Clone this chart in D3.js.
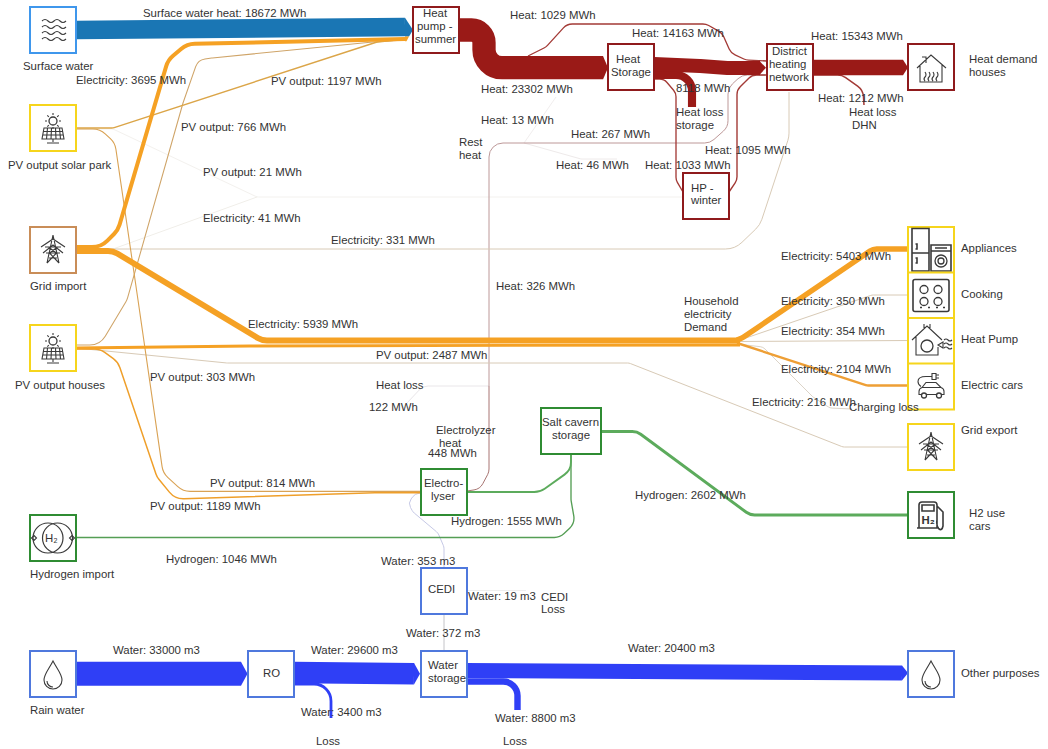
<!DOCTYPE html>
<html><head><meta charset="utf-8">
<style>html,body{margin:0;padding:0;background:#fff}svg{display:block}text{font-family:"Liberation Sans",Arial,sans-serif;font-size:11.4px;fill:#333}</style>
<script src="https://cdn.jsdelivr.net/npm/d3@7/dist/d3.min.js"></script>
</head><body><svg id="c" width="1048" height="749"></svg>
<script>
// ---------- DATA ----------
const nodeNames = ["Surface water","PV output solar park","Grid import","PV output houses","Hydrogen import","Rain water","RO","Water storage","CEDI","Electrolyser","Salt cavern storage","Heat pump - summer","Heat Storage","District heating network","Heat demand houses","HP - winter","Appliances","Cooking","Heat Pump","Electric cars","Grid export","H2 use cars","Other purposes"];
const linkIds   = ["surface","gridHP","pvParkHP","pvHouseHP","pvPark21","grid41","grid331","gridHH","pvHH","pvExport","pvParkEl","pvHouseEl","toStorage","bypass","storDHN","storLoss","storHP","hpDHN","dhnHouse","dhnLoss","elHeat","elLoss","rest267","rest46","rest13","app","cook","hp","cars","charge","elSalt","h2Imp","saltCars","rain","roStore","roLoss","storeOther","storeLoss","cedi372","cedi353","cedi19"];
const linkKinds = ["Surface water heat","Electricity","PV output","PV output","PV output","Electricity","Electricity","Electricity","PV output","PV output","PV output","PV output","Heat","Heat","Heat","Heat","Heat","Heat","Heat","Heat","Heat","Heat","Heat","Heat","Heat","Electricity","Electricity","Electricity","Electricity","Electricity","Hydrogen","Hydrogen","Hydrogen","Water","Water","Water","Water","Water","Water","Water","Water"];
const linkValues= [18672,3695,1197,766,21,41,331,5939,2487,303,814,1189,23302,1029,14163,8118,1033,1095,15343,1212,448,122,267,46,13,5403,350,354,2104,216,1555,1046,2602,33000,29600,3400,20400,8800,372,353,19];

// ---------- LAYOUT (positions and styles, separate from the values) ----------
const boxW = 46;
const nodeLayout = {
 "Surface water":[30,7,"#3f97ec"],"PV output solar park":[30,105,"#f6d51c"],"Grid import":[30,227,"#c98d58"],
 "PV output houses":[30,325,"#f6d51c"],"Hydrogen import":[30,515,"#2f8c33"],"Rain water":[30,651,"#4f78dd"],
 "RO":[248,651,"#4f78dd"],"Water storage":[421,651,"#4f78dd"],"CEDI":[421,568,"#4f78dd"],"Electrolyser":[421,469,"#2f8c33"],
 "Salt cavern storage":[541,408,"#2f8c33",60],"Heat pump - summer":[413,7,"#8f1a1c"],"Heat Storage":[608,44,"#8f1a1c"],
 "District heating network":[767,44,"#8f1a1c"],"Heat demand houses":[908,44,"#8f1a1c"],"HP - winter":[683,173,"#8f1a1c"],
 "Appliances":[908,227,"#f6d51c"],"Cooking":[908,272.5,"#f6d51c"],"Heat Pump":[908,318,"#f6d51c"],"Electric cars":[908,363.5,"#f6d51c"],
 "Grid export":[908,424,"#f6d51c"],"H2 use cars":[908,492,"#2f8c33"],"Other purposes":[908,651,"#4f78dd"]};
const orange="#f5a124", tan="#cfa468", ptan="#d8cab6", pale="#efece8", red="#9a1a17", rose="#bd9898", green="#5cab5c", blue="#2f3ff6", lav="#c6c9e6";
const routes = {
 surface:{p:[[76,30],[405,27]],c:"#1a76b4"},
 gridHP:{p:[[76,247],[101,247],[118,230],[168,60],[187,44],[405,39]],r:22,c:orange},
 pvParkHP:{p:[[76,128],[113,128],[377,42],[405,39]],r:8,c:"#dba548"},
 pvHouseHP:{p:[[76,345],[100,345],[127,300],[183,103],[198,60],[212,58],[373,42],[405,40]],r:18,c:tan},
 pvPark21:{p:[[76,129],[113,129],[257,197],[683,197]],r:6,c:"#f3f1ee"},
 grid41:{p:[[76,249],[113,249],[257,197]],r:6,c:"#f0eee9"},
 grid331:{p:[[76,249],[735,249],[760,225],[789,137],[789,92]],r:24,c:ptan},
 gridHH:{p:[[76,251],[113,251],[262,340.5],[740,340.5]],r:18,c:orange},
 pvHH:{p:[[76,348],[250,346],[740,345]],r:10,c:orange},
 pvExport:{p:[[76,348],[227,363],[629,363],[843,447],[908,447]],r:8,c:ptan},
 pvParkEl:{p:[[76,129],[100,129],[115,143],[138,300],[163,473],[183,491.400],[421,491.400]],r:18,c:"#d9a254"},
 pvHouseEl:{p:[[76,349],[100,349],[118,362],[157,477],[175,499],[375,492.800],[421,492.800]],r:18,c:"#ef9f2a"},
 toStorage:{p:[[459,30],[484,30],[484,67.7],[603,67.7]],r:18,c:red},
 bypass:{p:[[528,56],[546,47],[567,24],[706,24],[722,33],[731,53],[746,60],[767,61]],r:12,c:"#a33a36"},
 storDHN:{p:[[654,64],[700,66],[728,68],[760,68]],r:20,c:red},
 storLoss:{p:[[654,75],[692,75],[692,107]],r:17,c:red},
 storHP:{p:[[654,79],[664,79],[676,93],[676,180],[683,192]],r:10,c:"#a33a36"},
 hpDHN:{p:[[729,192],[737,180],[737,90],[752,75],[767,75]],r:11,c:"#a33a36"},
 dhnHouse:{p:[[812,67.5],[903,67.5]],c:red},
 dhnLoss:{p:[[812,75],[842,75],[863,90],[864,105]],r:14,c:"#a33a36"},
 elHeat:{p:[[467,491],[480,489],[489,472],[489,386]],r:12,c:"#a87572"},
 elLoss:{p:[[489,386],[423,386],[407,403]],r:12,c:"#e9e6e9"},
 rest267:{p:[[489,386],[489,143],[710,143],[728,127],[728,88],[742,75],[765,75]],r:14,c:rose},
 rest46:{p:[[524,143],[581,159],[617,159]],r:6,c:"#eeeaea"},
 rest13:{p:[[524,143],[556,97]],r:2,c:"#f1eeee"},
 app:{p:[[737,340],[743,337.5],[873,249],[908,249]],r:12,c:orange},
 cook:{p:[[737,341],[872,295],[908,295]],r:8,c:ptan},
 hp:{p:[[737,341.5],[908,340.5]],c:ptan},
 cars:{p:[[737,343],[867,385.5],[908,385.5]],r:8,c:"#ee9f35"},
 charge:{p:[[737,344],[763,347],[813,397],[830,408],[852,409]],r:8,c:"#dcd4c8"},
 elSalt:{p:[[467,492],[540,492],[571,470],[571,454]],r:18,c:green},
 h2Imp:{p:[[76,537.5],[560,537.5],[575,523],[571,500],[571,454]],r:14,c:"#559e55"},
 saltCars:{p:[[601,431.5],[637,431.5],[750,515],[908,515]],r:14,c:green},
 rain:{p:[[76,673.7],[241,673.7]],c:blue,water:1},
 roStore:{p:[[294,672.5],[414,673.7]],c:blue,water:1},
 roLoss:{p:[[294,684],[331,684],[331,718]],r:20,c:blue,water:1},
 storeOther:{p:[[467,670.5],[902,673]],c:blue,water:1},
 storeLoss:{p:[[467,681.5],[517.5,681.5],[517.5,710]],r:19,c:blue,water:1},
 cedi372:{p:[[444,613],[444,651]],c:"#c4c4c8",water:1},
 cedi353:{p:[[444,568],[444,547],[438,533],[413,512],[408,503],[415,494],[421,493]],r:9,c:lav,water:1},
 cedi19:{p:[[467,590.5],[526,590.5]],c:"#efefef",water:1}
};
const arrowTips = [
 [[405,17.7],[413,30],[409,36.5],[405,36.5],"#1a76b4"],
 [[405,36.5],[409,36.5],[406.5,41.2],[405,41.2],orange],
 [[603,56],[608,67.7],[603,79.4],red],
 [[759,60.5],[766,67.7],[759,75.4],red],
 [[903,59.8],[908,67.5],[903,75.2],red],
 [[241,661.7],[247.5,673.7],[241,685.7],blue],
 [[414,663],[420,673.7],[414,684.5],blue],
 [[902,665.5],[908,673],[902,680.5],blue]
];
// link labels: [link id, x, y]; text comes from linkKinds + linkValues
const linkLabelPos = [
 ["surface",143,13],["gridHP",76,80],["pvParkHP",271,81],["pvHouseHP",181,127],["pvPark21",203,172],["grid41",203,218],["grid331",331,240],
 ["gridHH",248,324],["pvHH",376,355],["pvExport",150,377],["pvParkEl",210,483],["pvHouseEl",150,506],
 ["toStorage",481,89],["bypass",510,15],["storDHN",632,33],["storHP",645,165],["hpDHN",705,150],["dhnHouse",811,36],["dhnLoss",818,98],
 ["rest267",571,134],["rest46",556,165],["rest13",481,120],
 ["app",781,256],["cook",781,301],["hp",781,331],["cars",781,369],["charge",752,402],
 ["elSalt",451,521],["h2Imp",166,559],["saltCars",635,495],
 ["rain",113,650],["roStore",311,650],["roLoss",301,712],["storeOther",628,648],["storeLoss",495,718],["cedi372",406,633],["cedi353",381,561],["cedi19",468,596]];
const unitOf = k => k==="Water" ? "m3" : "MWh";
// free-standing text
const freeLabels = [
 ["Surface water",23,66],["PV output solar park",8,165],["Grid import",30,286],["PV output houses",15,385],["Hydrogen import",30,574],["Rain water",30,710],
 ["Other purposes",961,673],["Appliances",961,248],["Cooking",961,294],["Heat Pump",961,339],["Electric cars",961,385],["Grid export",961,430],
 ["H2 use",969,513],["cars",969,526],["Heat demand",969,59],["houses",969,72],
 ["8118 MWh",676,88],["Heat loss",676,112],["storage",676,125],["Heat loss",849,112],["DHN",852,125],["Rest",459,142],["heat",459,155],["Heat: 326 MWh",496,286],
 ["Household",684,301],["electricity",684,314],["Demand",684,327],["Charging loss",849,407],["Heat loss",376,385],["122 MWh",369,407],
 ["Electrolyzer",436,430],["heat",439,443],["448 MWh",428,453],["CEDI",541,597],["Loss",541,609],["Loss",316,741],["Loss",503,741],
 ["Heat",423,13],["pump -",417,26],["summer",415,39],["Heat",616,59],["Storage",611,72],["District",772,51],["heating",769,64],["network",769,77],
 ["HP -",691,188],["winter",691,200],["Salt cavern",542,422],["storage",552,435],["Electro-",424,483],["lyser",431,496],["CEDI",428,589],["RO",263,673],["Water",428,665],["storage",428,678]
];

// ---------- DRAW ----------
const svg = d3.select("#c");
const width = d3.scaleLinear().domain([0,1000]).range([0,1]);
const widthWater = d3.scaleLinear().domain([0,1000]).range([0,0.73]);
function rounded(pts,r0){
  const p=d3.path(); p.moveTo(pts[0][0],pts[0][1]);
  for(let i=1;i<pts.length-1;i++){
    const [a,b,c]=[pts[i-1],pts[i],pts[i+1]];
    const l1=Math.hypot(a[0]-b[0],a[1]-b[1]), l2=Math.hypot(c[0]-b[0],c[1]-b[1]);
    const cos=((a[0]-b[0])*(c[0]-b[0])+(a[1]-b[1])*(c[1]-b[1]))/(l1*l2);
    const th=Math.acos(Math.max(-1,Math.min(1,cos)));
    const tanHalf=Math.tan(th/2);
    const r=Math.min(r0||0,Math.min(l1,l2)/2*tanHalf);
    if(r>0.05 && th<3.13) p.arcTo(b[0],b[1],c[0],c[1],r); else p.lineTo(b[0],b[1]);
  }
  const e=pts[pts.length-1]; p.lineTo(e[0],e[1]);
  return p.toString();
}
const links = linkIds.map((id,i)=>({id,kind:linkKinds[i],value:linkValues[i],route:routes[id]}));
svg.append("g").attr("fill","none").selectAll("path")
  .data(links.slice().sort((a,b)=>a.value-b.value)).join("path")
  .attr("d",d=>rounded(d.route.p,d.route.r))
  .attr("stroke",d=>d.route.c)
  .attr("stroke-width",d=>{const w=(d.route.water?widthWater:width)(d.value);return w<4?Math.max(1,w+0.3):w;});
svg.append("g").selectAll("polygon").data(arrowTips).join("polygon")
  .attr("points",d=>d.slice(0,-1).map(q=>q.join(",")).join(" "))
  .attr("fill",d=>d[d.length-1]);

const nodes = nodeNames.map(n=>({name:n,x:nodeLayout[n][0],y:nodeLayout[n][1],c:nodeLayout[n][2],w:nodeLayout[n][3]||boxW}));
const ng = svg.append("g").selectAll("g").data(nodes).join("g").attr("transform",d=>`translate(${d.x},${d.y})`);
ng.append("rect").attr("width",d=>d.w).attr("height",boxW).attr("fill","#fff").attr("stroke",d=>d.c).attr("stroke-width",2);

// icons, in local node coordinates
const ink="#3a3a3a";
const wave=y=>`M12 ${y}q3 -3 6 0t6 0t6 0t6 0`;
const solar="M14 23h18l2 11H12zM13 26.500h20M12.500 30h21M17.500 23l-1 11M21.500 23l-.5 11M25.500 23l.5 11M29.500 23l1 11M23 34v3M17 38h12";
const solarSun="M23 8v2M23 22v2M15 16h2M29 16h2M17.300 10.300l1.500 1.500M27.200 20.200l1.500 1.500M17.300 21.700l1.500-1.500M27.200 11.800l1.500-1.500";
const pylon="M23 8L17 36M23 8L29 36M11 20L23 12L35 20M13 26L23 18L33 26M17 36L26.500 26L18.500 20M29 36L19.500 26L27.500 20M15 20h16M16 26h14M19 31h8";
const house="M9 24L23 11L38 24M12 21V38H34V21M14 13h4v6M17 28q2 3 0 5t0 4M21 28q2 3 0 5t0 4M25 28q2 3 0 5t0 4M29 28q2 3 0 5t0 4";
const drop="M23 10C19 18 14 23 14 29a9 9 0 0 0 18 0C32 23 27 18 23 10zM17 30a6 6 0 0 0 6 6";
const icons = {
 "Surface water":[[wave(14)+wave(20)+wave(26)+wave(32)]],
 "PV output solar park":[[solar],[solarSun]],
 "PV output houses":[[solar],[solarSun]],
 "Grid import":[[pylon]],"Grid export":[[pylon]],
 "Heat demand houses":[[house]],
 "Rain water":[[drop]],"Other purposes":[[drop]],
 "Appliances":[["M4 1.500h17v42.500H4zM4 26h17M7.500 17h1.500v5h-1.500M7.500 31h1.500v5h-1.500M23 18h20v26H23zM23 24h20M27 21h12"]],
 "Cooking":[["M7 7h32a2 2 0 0 1 2 2v28a2 2 0 0 1-2 2H7a2 2 0 0 1-2-2V9a2 2 0 0 1 2-2zM12 35h2M20 35h2M28 35h2M35 35h2"]],
 "Heat Pump":[["M4 22L19 8L34 22M8 19V37H30V29M8 37h22M22 6v4M16 6v4M35 24l-5 3l5 3zM36 22q2-2 4 0t4 0M36 26q2-2 4 0t4 0M36 30q2-2 4 0t4 0"]],
 "Electric cars":[["M24 13h-6q-8 0-8 5q0 3 3 5M24 10h4v6h-4zM28 11.500h3M28 14.500h3M11 28q0-3 3-4l4-5h10l5 5q3 1 3 4v3H11zM14 24h19"]],
 "Hydrogen import":[["M4 20.500l2.500 2.500l-2.500 2.500l-2.500-2.500zM42 20.500l2.500 2.500l-2.500 2.500l-2.500-2.500z"]],
 "H2 use cars":[["M11 13a3 3 0 0 1 3-3h12a3 3 0 0 1 3 3v23H11zM9 36h22M14 13h12v6H14zM29 14l6 6v14q-1 5-4 3q-3-3-2-9"]]
};
ng.append("path").attr("fill","none").attr("stroke",ink).attr("stroke-width",d=>["Appliances","Cooking","H2 use cars"].includes(d.name)?1.6:1.1)
  .attr("d",d=>(icons[d.name]||[]).map(a=>a[0]).join(""));
const circles = {
 "PV output solar park":[[23,16,4]],"PV output houses":[[23,16,4]],
 "Appliances":[[33,34,6],[33,34,3]],
 "Cooking":[[16,17,4],[30,17,4],[16,29,4],[30,29,4]],
 "Heat Pump":[[19,28,6]],
 "Electric cars":[[16,32,2.5],[31,32,2.5]],
 "Hydrogen import":[[18,23,15],[27.500,23,15]]
};
ng.each(function(d){
  d3.select(this).selectAll("circle").data(circles[d.name]||[]).join("circle")
    .attr("cx",c=>c[0]).attr("cy",c=>c[1]).attr("r",c=>c[2])
    .attr("fill",d.name==="Hydrogen import"?"none":"#fff").attr("stroke",ink).attr("stroke-width",d.name==="Hydrogen import"?1.2:1.3);
});
ng.filter(d=>d.name==="Hydrogen import"||d.name==="H2 use cars").append("text")
  .attr("x",d=>d.name==="Hydrogen import"?15:13.5).attr("y",d=>d.name==="Hydrogen import"?27:32)
  .attr("font-weight",d=>d.name==="H2 use cars"?"bold":"normal")
  .text("H₂");

const linkById = new Map(links.map(l=>[l.id,l]));
const allLabels = linkLabelPos.map(([id,x,y])=>{const l=linkById.get(id);return [`${l.kind}: ${l.value} ${unitOf(l.kind)}`,x,y];}).concat(freeLabels);
svg.append("g").selectAll("text").data(allLabels).join("text")
  .attr("x",d=>d[1]).attr("y",d=>d[2]).attr("dy","0.35em").text(d=>d[0]);
</script></body></html>
